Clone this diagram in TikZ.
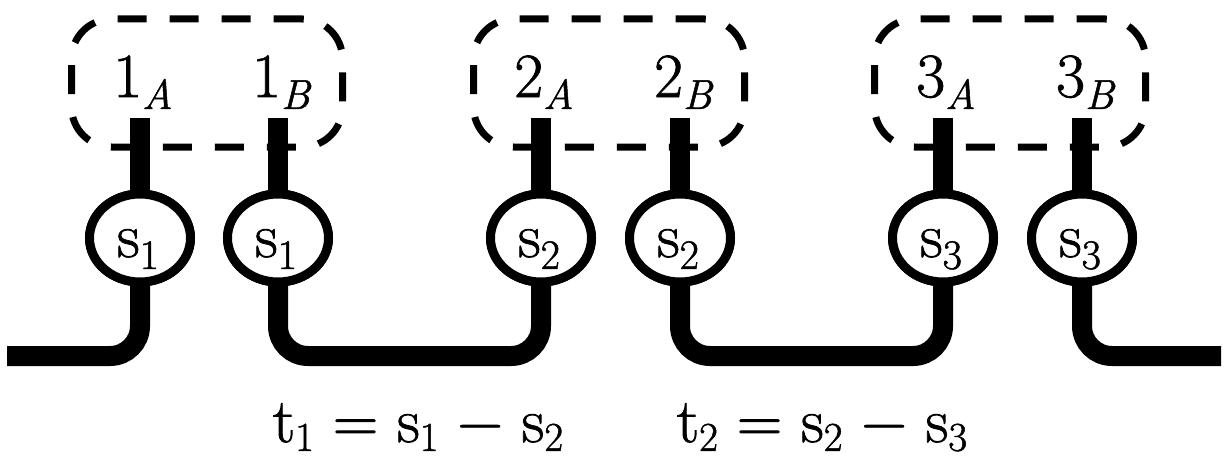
\documentclass[tikz,border=0pt]{standalone}
\usepackage{fontspec}
\setmainfont{Latin Modern Roman}[FakeBold=1.2]
\usetikzlibrary{shapes.geometric}
\newcommand\lowsub[1]{\raisebox{-0.19em}{\fontsize{42}{48}\selectfont #1}}
\newcommand\eqsub[1]{\raisebox{-0.14em}{\fontsize{41}{48}\selectfont #1}}
\newcommand\opsp{\hspace{0.3em}}
\begin{document}
\begin{tikzpicture}[x=1pt,y=-1pt,
  lbl/.style={font=\fontsize{63}{70}\selectfont, inner sep=0pt, anchor=base},
  groupbox/.style={draw, line width=7pt, dash pattern=on 29pt off 23pt, rounded corners=40pt,
    minimum width=271pt, minimum height=128pt, inner sep=0pt, outer sep=0pt},
  site/.style={ellipse, draw, line width=9pt, fill=white, minimum width=101pt,
    minimum height=88pt, inner sep=0pt, outer sep=0pt},
  bar/.style={line width=20pt},
  wire/.style={line width=20pt, rounded corners=30pt}]
\useasboundingbox (0,0) rectangle (1228,460);

% dashed groups
\node[groupbox] (g1) at (207,83) {};
\node[groupbox] (g2) at (609,83) {};
\node[groupbox] (g3) at (1010,83) {};

% coordinates
\coordinate (base) at (0,356);
\coordinate (L) at (7,356);
\coordinate (R) at (1221,356);
\foreach \n/\x in {1a/140,1b/278,2a/541,2b/680,3a/943,3b/1082}{
  \coordinate (t\n) at (\x,118);
}

% sites (ellipses)
\node[site] (c1a) at (140,238) {};
\node[site] (c1b) at (278,238) {};
\node[site] (c2a) at (541,238) {};
\node[site] (c2b) at (680,238) {};
\node[site] (c3a) at (943,238) {};
\node[site] (c3b) at (1082,238) {};

% bars
\foreach \n in {1a,1b,2a,2b,3a,3b}{
  \draw[bar] (t\n) -- (c\n.north);
}

% wires
\draw[wire] (L) -| (c1a.south);
\draw[wire] (c1b.south) -- (c1b.south |- base) -- (c2a.south |- base) -- (c2a.south);
\draw[wire] (c2b.south) -- (c2b.south |- base) -- (c3a.south |- base) -- (c3a.south);
\draw[wire] (c3b.south) |- (R);

% redraw sites on top
\foreach \n in {1a,1b,2a,2b,3a,3b}{
  \node[site] at (c\n) {};
}

% labels
\node[lbl] (l1a) at (143,97) {1\lowsub{\itshape A}};
\node[lbl] (l1b) at (281,97) {1\lowsub{\itshape B}};
\node[lbl] (l2a) at (544,97) {2\lowsub{\itshape A}};
\node[lbl] (l2b) at (683,97) {2\lowsub{\itshape B}};
\node[lbl] (l3a) at (946,97) {3\lowsub{\itshape A}};
\node[lbl] (l3b) at (1085,97) {3\lowsub{\itshape B}};

\node[lbl] (x1a) at (138,257) {s\lowsub{1}};
\node[lbl] (x1b) at (276,257) {s\lowsub{1}};
\node[lbl] (x2a) at (539,257) {s\lowsub{2}};
\node[lbl] (x2b) at (678,257) {s\lowsub{2}};
\node[lbl] (x3a) at (941,257) {s\lowsub{3}};
\node[lbl] (x3b) at (1080,257) {s\lowsub{3}};

\node[lbl] (eq1) at (418,442) {t\eqsub{1}\opsp=\opsp s\eqsub{1}\opsp−\opsp s\eqsub{2}};
\node[lbl] (eq2) at (822,442) {t\eqsub{2}\opsp=\opsp s\eqsub{2}\opsp−\opsp s\eqsub{3}};
\end{tikzpicture}
\end{document}
